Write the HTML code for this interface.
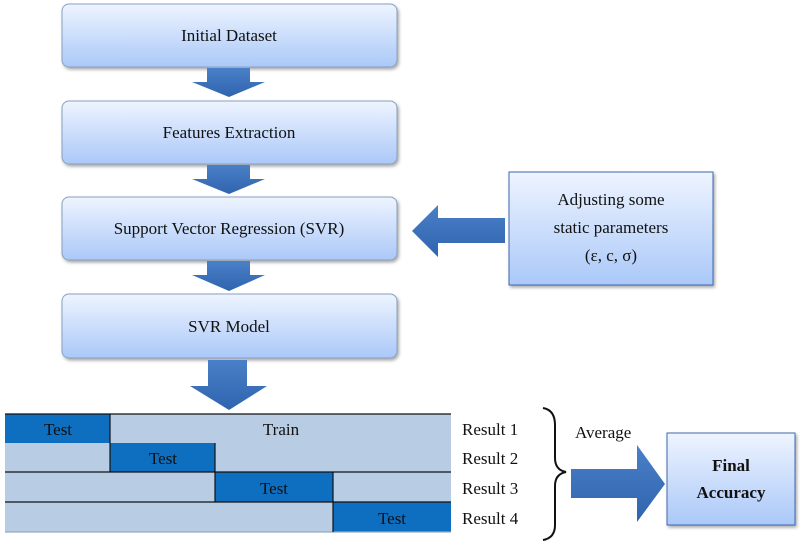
<!DOCTYPE html>
<html><head><meta charset="utf-8"><style>
body{margin:0;background:#fff}
svg text{font-family:"Liberation Serif",serif;fill:#111}
</style></head><body>
<svg width="800" height="544" viewBox="0 0 800 544" xmlns="http://www.w3.org/2000/svg">
<defs>
<linearGradient id="g" x1="0" y1="0" x2="0" y2="1">
<stop offset="0" stop-color="#eef4ff"/><stop offset="1" stop-color="#aac8f8"/></linearGradient>
<linearGradient id="a" x1="0" y1="0" x2="0" y2="1">
<stop offset="0" stop-color="#4a80c8"/><stop offset="1" stop-color="#2f64ae"/></linearGradient>
<filter id="s" x="-10%" y="-10%" width="130%" height="130%"><feDropShadow dx="1.5" dy="2" stdDeviation="1.5" flood-color="#000" flood-opacity="0.35"/></filter>
</defs>
<g filter="url(#s)" stroke="#8aa0c0" stroke-width="1" fill="url(#g)">
<rect x="62" y="4" width="335" height="63" rx="7"/>
<rect x="62" y="101" width="335" height="63" rx="7"/>
<rect x="62" y="197" width="335" height="63" rx="7"/>
<rect x="62" y="294" width="335" height="64" rx="7"/>
<rect x="509" y="172" width="204" height="113" stroke="#3d6ab0"/>
<rect x="667" y="433" width="128" height="92" stroke="#3d6ab0"/>
</g>
<g fill="url(#a)">
<polygon points="207,68 250,68 250,82 265,82 229,97 192,82 207,82"/>
<polygon points="207,165 250,165 250,179 265,179 229,194 192,179 207,179"/>
<polygon points="207,261 250,261 250,275 265,275 229,291 192,275 207,275"/>
<polygon points="208,360 247,360 247,386 267,386 229,410 190,386 208,386"/>
<polygon points="505,218 438,218 438,205 412,231 438,257 438,243 505,243"/>
<polygon points="571,469 637,469 637,445 665,484 637,522 637,498 571,498"/>
</g>
<g font-size="17" text-anchor="middle">
<text x="229" y="41">Initial Dataset</text>
<text x="229" y="138">Features Extraction</text>
<text x="229" y="234">Support Vector Regression (SVR)</text>
<text x="229" y="332">SVR Model</text>
<text x="611" y="205">Adjusting some</text>
<text x="611" y="233">static parameters</text>
<text x="611" y="261">(ε, c, σ)</text>
<text x="731" y="471" font-weight="bold">Final</text>
<text x="731" y="498" font-weight="bold">Accuracy</text>
</g>
<g>
<rect x="5" y="414" width="446" height="118" fill="#b8cce4"/>
<rect x="5" y="414" width="105" height="29" fill="#0e6ebf"/>
<rect x="110" y="443" width="105" height="29" fill="#0e6ebf"/>
<rect x="215" y="472" width="118" height="30" fill="#0e6ebf"/>
<rect x="333" y="502" width="118" height="30" fill="#0e6ebf"/>
<g stroke="#111" stroke-width="1.2">
<line x1="5" y1="414" x2="451" y2="414"/>
<line x1="5" y1="472" x2="451" y2="472"/>
<line x1="5" y1="502" x2="451" y2="502"/>
<line x1="5" y1="532" x2="451" y2="532" stroke="#9ab"/>
<line x1="110" y1="414" x2="110" y2="472"/>
<line x1="215" y1="443" x2="215" y2="502"/>
<line x1="333" y1="472" x2="333" y2="532"/>
</g>
<g font-size="17" text-anchor="middle">
<text x="58" y="435">Test</text>
<text x="281" y="435">Train</text>
<text x="163" y="464">Test</text>
<text x="274" y="494">Test</text>
<text x="392" y="524">Test</text>
</g>
<g font-size="17">
<text x="462" y="435">Result 1</text>
<text x="462" y="464">Result 2</text>
<text x="462" y="494">Result 3</text>
<text x="462" y="524">Result 4</text>
<text x="575" y="438">Average</text>
</g>
<path d="M543,408 Q555,410 555,425 L555,458 Q555,470 566,472 Q555,474 555,486 L555,525 Q555,538 543,540" fill="none" stroke="#111" stroke-width="2"/>
</g>
</svg>
</body></html>
